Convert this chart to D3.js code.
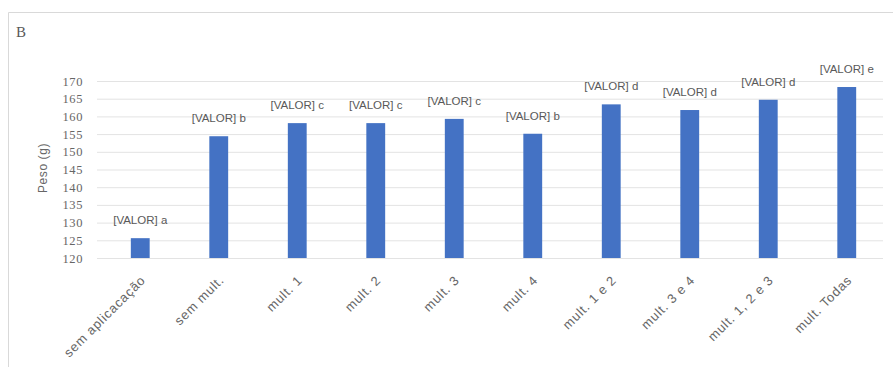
<!DOCTYPE html>
<html><head><meta charset="utf-8">
<script src="https://cdn.jsdelivr.net/npm/d3@7"></script>
<style>body{margin:0;background:#fff}svg{display:block;font-family:"Liberation Sans",Arial,sans-serif}</style>
</head><body>
<svg id="c" width="893" height="367"></svg>
<script>
const categories = ["sem aplicacação","sem mult.","mult. 1","mult. 2","mult. 3","mult. 4","mult. 1 e 2","mult. 3 e 4","mult. 1, 2 e 3","mult. Todas"];
const values = [125.6, 154.4, 158.1, 158.1, 159.3, 155.1, 163.4, 161.8, 164.7, 168.3];
const letters = ["a","b","c","c","c","b","d","d","d","e"];
const yTicks = [120,125,130,135,140,145,150,155,160,165,170];

const svg = d3.select("#c");
// chart border
svg.append("path").attr("d","M8.5,367 L8.5,12.5 L893,12.5").attr("fill","none").attr("stroke","#d9d9d9");
svg.append("text").attr("x",16).attr("y",37).attr("font-size",15).attr("fill","#595959")
  .attr("font-family","Liberation Serif, serif").text("B");

const x = d3.scaleBand().domain(categories).range([101,886]).paddingInner(0.76).paddingOuter(0.38);
const y = d3.scaleLinear().domain([120,170]).range([258,81]);

// gridlines
svg.append("g").selectAll("line").data(yTicks).join("line")
  .attr("x1",97).attr("x2",883).attr("y1",d=>y(d)+0.5).attr("y2",d=>y(d)+0.5)
  .attr("stroke","#e3e3e3");

const yAxis = svg.append("g").attr("transform","translate(86,0)")
  .call(d3.axisLeft(y).tickValues(yTicks).tickSize(0).tickPadding(3));
yAxis.select(".domain").remove();
yAxis.selectAll("text").attr("font-size",12.5).attr("letter-spacing",0.6).attr("fill","#666")
  .attr("font-family","Liberation Serif, serif");

svg.append("text").attr("transform","translate(47,168) rotate(-90)").attr("text-anchor","middle")
  .attr("font-size",12).attr("letter-spacing",0.6).attr("fill","#666").text("Peso (g)");

svg.append("g").selectAll("rect").data(values).join("rect")
  .attr("x",(d,i)=>x(categories[i])).attr("width",x.bandwidth())
  .attr("y",d=>y(d)).attr("height",d=>y(120)-y(d)).attr("fill","#4472C4");

svg.append("g").selectAll("text").data(values).join("text")
  .attr("x",(d,i)=>x(categories[i])+x.bandwidth()/2).attr("y",d=>y(d)-14)
  .attr("text-anchor","middle").attr("font-size",11.5).attr("fill","#595959")
  .text((d,i)=>"[VALOR] "+letters[i]);

const xAxis = svg.append("g").attr("transform","translate(0,258)")
  .call(d3.axisBottom(x).tickSize(0).tickPadding(0));
xAxis.select(".domain").remove();
xAxis.selectAll("text").attr("font-size",13).attr("letter-spacing",0.8).attr("fill","#666")
  .attr("text-anchor","end").attr("dy",0)
  .attr("transform","translate(6,23) rotate(-45)");
</script>
</body></html>
